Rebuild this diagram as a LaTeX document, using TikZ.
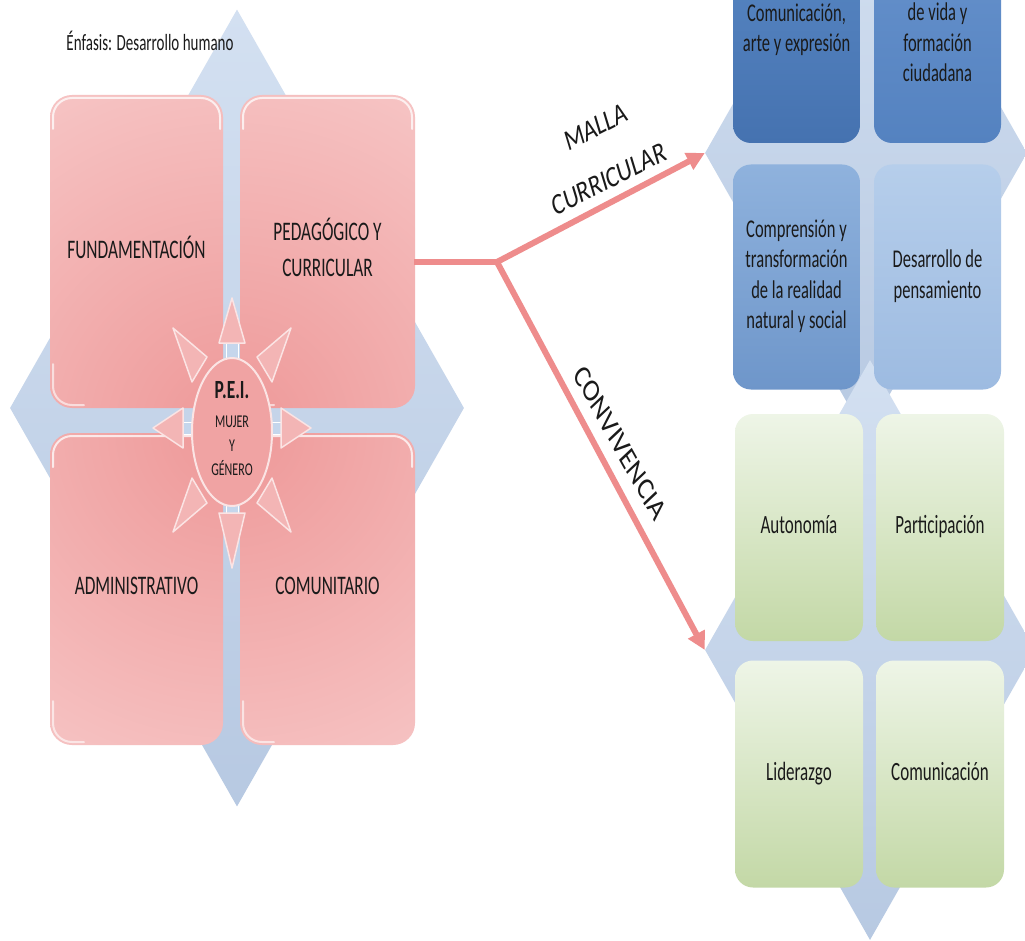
\documentclass[tikz,border=0pt]{standalone}
\usepackage{fontspec}
\setmainfont{Carlito}
\usetikzlibrary{shapes.geometric,arrows.meta}
\definecolor{pinkD}{HTML}{EE9898}
\definecolor{pinkL}{HTML}{F9D4D4}
\definecolor{diaT}{HTML}{D3E0F1}
\definecolor{diaB}{HTML}{B7C9E2}
\definecolor{connC}{HTML}{EE8C8C}
\definecolor{triF}{HTML}{F3B5B5}
\definecolor{triE}{HTML}{FBE4E4}
\definecolor{shaftC}{HTML}{C5D6EC}
\definecolor{peiF}{HTML}{F0A3A3}
\definecolor{txtC}{HTML}{1A1A1A}
\definecolor{bAT}{HTML}{5A89C5}\definecolor{bAB}{HTML}{4572B0}
\definecolor{bBT}{HTML}{6893CD}\definecolor{bBB}{HTML}{5482C0}
\definecolor{bCT}{HTML}{8FB2DD}\definecolor{bCB}{HTML}{6E96CA}
\definecolor{bDT}{HTML}{B6CEEB}\definecolor{bDB}{HTML}{9DBBE1}
\definecolor{gT}{HTML}{EEF5E7}
\definecolor{gB}{HTML}{C3D8A6}
\newcommand{\vs}[2][1.55]{\scalebox{1}[#1]{\begin{tabular}{@{}c@{}}#2\end{tabular}}}
\begin{document}
\begin{tikzpicture}[x=1pt,y=-1pt,
  dia/.style={diamond, inner sep=0pt, draw=none, top color=diaT, bottom color=diaB},
  pbox/.style={rectangle, inner sep=0pt, minimum width=173pt, minimum height=313pt, text=txtC, font=\fontsize{17.3}{23}\selectfont},
  hlite/.style={draw=white, line width=2pt, opacity=.75, rounded corners=19pt, line cap=round},
  tri/.style={fill=triF, draw=triE, line width=1.5pt, line join=round},
  shaft/.style={fill=shaftC, draw=white, line width=1pt},
  bbox/.style={rectangle, rounded corners=18pt, inner sep=0pt, minimum width=127pt, minimum height=225pt, text=txtC, font=\fontsize{16.5}{19.4}\selectfont},
  btxt/.style={inner sep=0pt, text=txtC, font=\fontsize{16.5}{19.4}\selectfont},
  gbox/.style={rectangle, rounded corners=18pt, inner sep=0pt, minimum width=128pt, minimum height=227pt, top color=gT, bottom color=gB, text=txtC, font=\fontsize{17}{20}\selectfont},
  conn/.style={draw=connC, line width=6pt},
  tip/.style={-{Triangle[length=18pt,width=18pt]}},
  lbl/.style={inner sep=0pt, text=txtC, font=\fontsize{23}{26}\selectfont}
]
\useasboundingbox (0,0) rectangle (1025,941);
\clip (0,0) rectangle (1025,941);
\fill[white] (0,0) rectangle (1025,941);

% background diamonds
\node[dia, minimum width=454pt, minimum height=797pt] (ld) at (237,408) {};
\node[dia, minimum width=322pt, minimum height=566pt] (bd) at (866,153) {};
\node[dia, minimum width=330pt, minimum height=580pt] (gd) at (870,650) {};

% pink boxes (shading centred on P.E.I.)
\begin{scope}
  \clip[rounded corners=22pt] (50,95) rectangle (223,408) (240,95) rectangle (415,408)
                               (50,433) rectangle (223,745) (240,433) rectangle (415,745);
  \shade[inner color=pinkD, outer color=pinkL] (232,430) circle[radius=520];
\end{scope}
\foreach \xa/\ya/\xb/\yb in {50/95/223/408, 240/95/415/408, 50/433/223/745, 240/433/415/745}{
  \draw[hlite] (\xa+3,\ya+34) |- ({(\xa+\xb)/2},\ya+3) -| (\xb-3,\ya+34);
  \draw[hlite, opacity=.6] (\xa+3,\yb-44) |- (\xa+34,\yb-3);
}
\node[pbox] (fund) at (136.5,251.5) {\vs{FUNDAMENTACIÓN}};
\node[pbox] (ped) at (327.5,251.5) {\vs{PEDAGÓGICO Y\\CURRICULAR}};
\node[pbox, minimum height=312pt] (adm) at (136.5,587) {\vs{ADMINISTRATIVO}};
\node[pbox, minimum height=312pt] (com) at (327.5,587) {\vs{COMUNITARIO}};

\node[inner sep=0pt, text=txtC, font=\fontsize{15}{18}\selectfont] (enf) at (150,45) {\vs{Énfasis: Desarrollo humano}};

% P.E.I. rays
\draw[tri] (173,328) -- (207,357) -- (192,382) -- cycle;
\draw[tri] (291,328) -- (257,357) -- (272,382) -- cycle;
\draw[tri] (173,532) -- (207,503) -- (192,478) -- cycle;
\draw[tri] (291,532) -- (257,503) -- (272,478) -- cycle;
\draw[shaft] (226,342) rectangle (238,362);
\draw[tri] (232,298) -- (245,343) -- (219,343) -- cycle;
\draw[shaft] (226,500) rectangle (238,514);
\draw[tri] (232,568) -- (245,513) -- (219,513) -- cycle;
\draw[shaft] (182,422) rectangle (197,434);
\draw[tri] (153,428) -- (183,408) -- (183,448) -- cycle;
\draw[shaft] (268,422) rectangle (282,434);
\draw[tri] (311,428) -- (281,408) -- (281,448) -- cycle;
\node[ellipse, minimum width=80pt, minimum height=148pt, inner sep=0pt, fill=peiF, draw=triE, line width=2pt,
      text=txtC, font=\fontsize{12}{16}\selectfont] (pei) at (232,432)
  {\vs[1.5]{\fontsize{17.5}{20}\selectfont\textbf{P.E.I.}\\[3pt] MUJER\\ Y\\ GÉNERO}};

% blue boxes
\node[bbox, top color=bAT, bottom color=bAB] (b1) at (796.5,30.5) {\vs{Comunicación,\\arte y expresión}};
\node[bbox, top color=bBT, bottom color=bBB] (b2) at (937.5,30.5) {};
\node[btxt] (b2t) at (937.5,45) {\vs{de vida y\\formación\\ciudadana}};
\node[bbox, top color=bCT, bottom color=bCB] (b3) at (796.5,277) {\vs{Comprensión y\\transformación\\de la realidad\\natural y social}};
\node[bbox, top color=bDT, bottom color=bDB] (b4) at (937.5,277) {\vs{Desarrollo de\\pensamiento}};

% green boxes
\node[gbox] (g1) at (799,527.5) {\vs{Autonomía}};
\node[gbox] (g2) at (940,527.5) {\vs{Participación}};
\node[gbox] (g3) at (799,774) {\vs{Liderazgo}};
\node[gbox] (g4) at (940,774) {\vs{Comunicación}};

% connectors
\coordinate (j) at (497,262);
\draw[conn, line join=round] (ped.east |- j) -- (j);
\draw[conn, tip] (j) -- (bd.west);
\draw[conn, tip] (j) -- (gd.west);

\node[lbl, yscale=1.3, rotate=21.5] (malla) at (596,127) {MALLA};
\node[lbl, yscale=1.3, rotate=21.5] (curr) at (609,179) {CURRICULAR};
\node[lbl, yscale=1.3, rotate=-54, font=\fontsize{24.5}{26}\selectfont] (conv) at (620,443) {CONVIVENCIA};
\end{tikzpicture}
\end{document}
